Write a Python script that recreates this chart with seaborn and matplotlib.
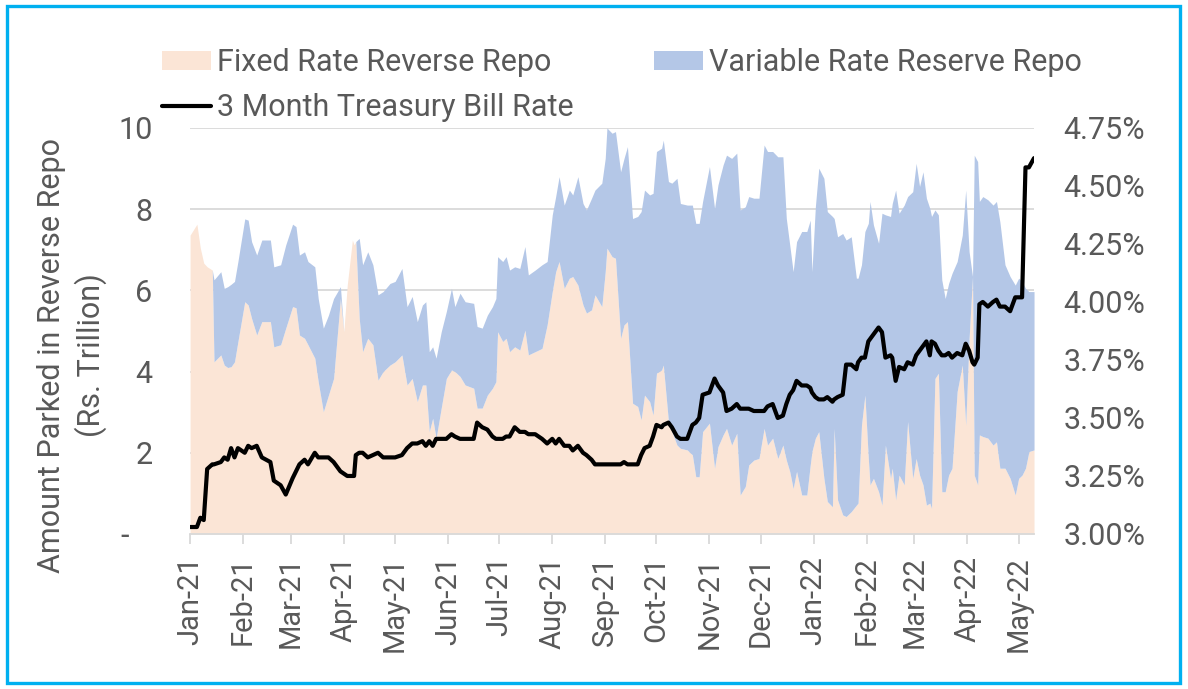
import matplotlib
matplotlib.use("Agg")
import matplotlib.pyplot as plt
import matplotlib.dates as mdates
from matplotlib.patches import Patch, Rectangle
from matplotlib.lines import Line2D
from matplotlib.ticker import FuncFormatter
import pandas as pd
import seaborn as sns

# ── data ──────────────────────────────────────────────────────
dates = [
    "2021-01-01", "2021-01-05", "2021-01-07", "2021-01-09", "2021-01-11", "2021-01-14", "2021-01-15",
    "2021-01-19", "2021-01-21", "2021-01-23", "2021-01-25", "2021-01-27", "2021-01-29",
    "2021-02-02", "2021-02-04", "2021-02-06", "2021-02-09", "2021-02-12", "2021-02-17", "2021-02-19",
    "2021-02-23", "2021-02-26",
    "2021-03-02", "2021-03-04", "2021-03-06", "2021-03-09", "2021-03-11", "2021-03-15", "2021-03-17",
    "2021-03-20", "2021-03-23", "2021-03-26", "2021-03-30",
    "2021-04-01", "2021-04-03", "2021-04-06", "2021-04-07", "2021-04-08", "2021-04-10", "2021-04-12",
    "2021-04-15", "2021-04-18", "2021-04-21", "2021-04-24", "2021-04-28",
    "2021-05-01", "2021-05-05", "2021-05-08", "2021-05-11", "2021-05-14", "2021-05-17", "2021-05-19",
    "2021-05-21", "2021-05-23", "2021-05-25", "2021-05-28", "2021-05-31",
    "2021-06-03", "2021-06-05", "2021-06-08", "2021-06-11", "2021-06-16", "2021-06-18", "2021-06-21",
    "2021-06-24", "2021-06-27", "2021-06-29", "2021-06-30",
    "2021-07-03", "2021-07-05", "2021-07-07", "2021-07-10", "2021-07-13", "2021-07-16", "2021-07-18",
    "2021-07-22", "2021-07-26", "2021-07-29",
    "2021-08-01", "2021-08-03", "2021-08-05", "2021-08-08", "2021-08-11", "2021-08-13", "2021-08-16",
    "2021-08-19", "2021-08-21", "2021-08-24", "2021-08-26", "2021-08-30",
    "2021-09-01", "2021-09-02", "2021-09-05", "2021-09-07", "2021-09-10", "2021-09-12", "2021-09-14",
    "2021-09-17", "2021-09-20", "2021-09-22", "2021-09-24", "2021-09-27", "2021-09-29",
    "2021-10-01", "2021-10-04", "2021-10-05", "2021-10-08", "2021-10-10", "2021-10-13", "2021-10-15",
    "2021-10-19", "2021-10-22", "2021-10-24", "2021-10-26", "2021-10-28",
    "2021-11-01", "2021-11-04", "2021-11-06", "2021-11-09", "2021-11-11", "2021-11-14", "2021-11-17",
    "2021-11-19", "2021-11-22", "2021-11-24", "2021-11-27", "2021-11-30",
    "2021-12-03", "2021-12-05", "2021-12-08", "2021-12-11", "2021-12-14", "2021-12-16", "2021-12-18",
    "2021-12-20", "2021-12-22", "2021-12-25", "2021-12-28", "2021-12-30", "2021-12-31",
    "2022-01-02", "2022-01-04", "2022-01-07", "2022-01-09", "2022-01-12", "2022-01-13", "2022-01-15",
    "2022-01-18", "2022-01-20", "2022-01-23", "2022-01-26", "2022-01-27", "2022-01-29", "2022-01-31",
    "2022-02-02", "2022-02-03", "2022-02-05", "2022-02-08", "2022-02-10", "2022-02-12", "2022-02-15",
    "2022-02-16", "2022-02-18", "2022-02-20", "2022-02-23", "2022-02-25", "2022-02-28",
    "2022-03-02", "2022-03-04", "2022-03-06", "2022-03-08", "2022-03-10", "2022-03-11", "2022-03-13",
    "2022-03-15", "2022-03-17", "2022-03-19", "2022-03-21", "2022-03-23", "2022-03-26", "2022-03-29",
    "2022-03-31",
    "2022-04-02", "2022-04-04", "2022-04-05", "2022-04-07", "2022-04-08", "2022-04-10", "2022-04-13",
    "2022-04-16", "2022-04-18", "2022-04-20", "2022-04-23", "2022-04-26", "2022-04-29",
    "2022-05-01", "2022-05-03", "2022-05-05", "2022-05-07", "2022-05-10",
]

# total amount parked (fixed + variable), Rs. trillion
total_parked = [
    7.36, 7.63, 7.04, 6.67, 6.58, 6.50, 6.26, 6.46, 6.05, 6.09, 6.15, 6.22, 6.71,
    7.76, 7.73, 7.20, 6.87, 7.24, 7.24, 6.58, 6.63, 7.12,
    7.63, 7.57, 6.87, 6.95, 6.71, 6.58, 5.80, 5.07, 5.39, 5.80, 6.09,
    4.98, 6.13, 7.24, 7.12, 7.20, 7.28, 6.63, 6.95, 6.63, 5.89, 5.97, 6.17,
    6.22, 6.54, 5.60, 5.85, 5.23, 5.64, 5.72, 4.49, 4.61, 4.33, 4.98, 5.48,
    6.05, 5.60, 5.93, 5.72, 5.68, 5.11, 5.07, 5.39, 5.60, 5.80, 6.83,
    6.71, 6.83, 6.50, 6.58, 6.54, 7.08, 6.38, 6.50, 6.63, 6.71,
    7.86, 8.31, 8.80, 8.10, 8.47, 8.35, 8.80, 8.14, 7.98, 8.27, 8.47, 8.64,
    9.25, 10.00, 9.87, 9.91, 8.92, 9.25, 9.54, 7.77, 7.82, 7.94, 8.47, 8.35, 8.39,
    9.42, 9.50, 9.70, 8.68, 8.64, 8.76, 8.14, 8.10, 8.10, 7.65, 7.65, 8.19,
    9.05, 8.02, 8.60, 9.09, 9.33, 9.25, 9.38, 7.98, 8.06, 8.31, 8.27, 8.27,
    9.58, 9.42, 9.42, 9.29, 9.29, 7.77, 7.12, 6.46, 7.20, 7.45, 7.45, 7.73, 6.46,
    8.06, 9.01, 8.76, 7.94, 7.82, 7.77, 7.32, 7.40, 7.24, 7.32, 6.30, 6.30, 6.63, 7.45,
    7.65, 8.19, 7.61, 7.16, 7.90, 7.86, 7.82, 8.14, 8.47, 7.90, 8.10, 8.31, 8.43,
    9.13, 8.56, 8.92, 8.27, 8.02, 7.82, 7.98, 7.86, 6.26, 5.80, 6.17, 6.42, 6.71, 7.36, 8.47,
    6.95, 6.34, 9.33, 9.17, 8.19, 8.31, 8.23, 8.10, 8.19, 7.69, 6.63, 6.34, 6.13,
    6.30, 6.22, 6.05, 5.97, 5.97,
]

fixed_rate = [
    7.36, 7.63, 7.04, 6.67, 6.58, 6.50, 4.24, 4.41, 4.16, 4.10, 4.12, 4.24, 4.74,
    5.72, 5.64, 5.31, 4.90, 5.23, 5.23, 4.61, 4.66, 5.07,
    5.60, 5.57, 4.90, 4.82, 4.66, 4.33, 3.75, 3.01, 3.42, 3.83, 5.80,
    4.98, 6.13, 7.24, 7.12, 7.20, 5.31, 4.49, 4.82, 4.66, 3.79, 4.00, 4.16,
    4.24, 4.41, 3.67, 3.83, 3.26, 3.67, 3.67, 2.52, 2.85, 2.36, 3.10, 3.83,
    4.04, 4.00, 3.88, 3.67, 3.59, 3.10, 3.10, 3.42, 3.59, 3.75, 4.98,
    4.74, 4.82, 4.49, 4.61, 4.53, 5.02, 4.41, 4.49, 4.57, 5.15,
    5.97, 6.46, 6.71, 6.05, 6.30, 6.34, 6.13, 5.64, 5.44, 5.52, 5.89, 5.60,
    6.46, 7.04, 6.83, 6.79, 4.82, 5.15, 5.23, 3.22, 3.14, 2.81, 3.42, 3.26, 2.93,
    3.96, 4.04, 4.16, 2.77, 2.52, 2.19, 2.11, 2.07, 1.95, 1.41, 1.41, 2.52,
    2.73, 1.62, 2.15, 2.44, 2.60, 2.19, 2.48, 0.96, 1.17, 1.70, 1.82, 1.86,
    2.60, 2.19, 2.36, 1.86, 2.19, 1.82, 1.54, 1.12, 1.54, 0.96, 0.96, 1.70, 2.03,
    2.36, 2.52, 1.37, 0.80, 0.67, 2.60, 0.84, 0.47, 0.43, 0.55, 0.71, 0.76, 2.68, 3.42,
    1.86, 1.21, 1.37, 1.04, 0.71, 2.19, 1.37, 1.62, 0.84, 1.45, 1.21, 2.77, 1.37,
    1.86, 1.45, 1.21, 0.71, 0.76, 0.63, 3.83, 3.96, 1.04, 1.04, 1.45, 1.62, 3.51, 4.16, 2.68,
    4.82, 6.34, 1.45, 1.21, 2.44, 2.40, 2.36, 2.19, 2.27, 1.62, 1.62, 1.37, 0.96,
    1.37, 1.45, 1.62, 2.03, 2.07,
]

# 3 month T-bill rate, %
tbill_rate = [
    3.03, 3.03, 3.07, 3.06, 3.28, 3.30, 3.30, 3.31, 3.33, 3.32, 3.37, 3.33, 3.37,
    3.35, 3.38, 3.37, 3.38, 3.33, 3.31, 3.23, 3.21, 3.17,
    3.24, 3.27, 3.30, 3.32, 3.30, 3.35, 3.33, 3.33, 3.33, 3.31, 3.27,
    3.26, 3.25, 3.25, 3.25, 3.34, 3.35, 3.35, 3.33, 3.34, 3.35, 3.33, 3.33,
    3.33, 3.34, 3.37, 3.39, 3.39, 3.40, 3.38, 3.40, 3.38, 3.41, 3.41, 3.41,
    3.43, 3.42, 3.41, 3.41, 3.41, 3.48, 3.46, 3.45, 3.42, 3.41, 3.41,
    3.41, 3.42, 3.42, 3.46, 3.44, 3.44, 3.43, 3.43, 3.41, 3.39,
    3.41, 3.39, 3.41, 3.38, 3.38, 3.36, 3.38, 3.35, 3.34, 3.32, 3.30, 3.30,
    3.30, 3.30, 3.30, 3.30, 3.30, 3.31, 3.30, 3.30, 3.30, 3.34, 3.37, 3.38, 3.42,
    3.47, 3.46, 3.47, 3.48, 3.46, 3.42, 3.41, 3.41, 3.47, 3.48, 3.50, 3.60,
    3.61, 3.67, 3.64, 3.61, 3.53, 3.54, 3.56, 3.54, 3.54, 3.54, 3.53, 3.53,
    3.53, 3.55, 3.56, 3.50, 3.51, 3.56, 3.60, 3.62, 3.66, 3.64, 3.64, 3.63, 3.61,
    3.59, 3.58, 3.58, 3.59, 3.57, 3.58, 3.59, 3.60, 3.73, 3.73, 3.71, 3.74, 3.76, 3.76,
    3.83, 3.84, 3.86, 3.89, 3.87, 3.76, 3.77, 3.76, 3.66, 3.72, 3.71, 3.74, 3.73,
    3.77, 3.79, 3.81, 3.83, 3.77, 3.83, 3.82, 3.79, 3.77, 3.77, 3.78, 3.76, 3.78, 3.77, 3.82,
    3.79, 3.74, 3.73, 3.76, 3.99, 4.00, 3.98, 4.00, 4.01, 3.98, 3.98, 3.96, 4.02,
    4.02, 4.02, 4.58, 4.58, 4.62,
]

left_ticks = [0, 2, 4, 6, 8, 10]
right_ticks = [3.00, 3.25, 3.50, 3.75, 4.00, 4.25, 4.50, 4.75]

df = pd.DataFrame({
    "date": pd.to_datetime(dates),
    "total": total_parked,
    "fixed": fixed_rate,
    "rate": tbill_rate,
})
df["variable"] = df["total"] - df["fixed"]

# ── style ──────────────────────────────────────────────────────
sns.set_style("white")
plt.rcParams["font.family"] = ["Roboto", "DejaVu Sans"]
TXT = "#595959"
PEACH = "#FBE5D6"
BLUE = "#B4C7E7"
GRID = "#D9D9D9"
FS = 22

fig = plt.figure(figsize=(11.88, 6.89), dpi=100)
ax = fig.add_axes([0.160, 0.225, 0.7104, 0.5893])

ax.stackplot(df["date"], df["fixed"], df["variable"], colors=[PEACH, BLUE], linewidth=0)
ax.set_ylim(0, 10)
ax.set_yticks(left_ticks)
ax.yaxis.set_major_formatter(FuncFormatter(lambda v, p: "-   " if v == 0 else f"{v:.0f}"))
ax.set_xlim(pd.Timestamp("2021-01-01"), pd.Timestamp("2022-05-10"))
ax.xaxis.set_major_locator(mdates.MonthLocator())
ax.xaxis.set_major_formatter(mdates.DateFormatter("%b-%y"))
ax.set_axisbelow(True)
ax.yaxis.grid(True, color=GRID, lw=1.3)
ax.xaxis.grid(False)
for s in ["top", "left", "right"]:
    ax.spines[s].set_visible(False)
ax.spines["bottom"].set_color(GRID)
ax.spines["bottom"].set_linewidth(1.3)
ax.tick_params(axis="x", which="major", direction="out", length=7, width=1.3, color=GRID,
               labelsize=FS - 1, labelcolor=TXT, pad=9, labelrotation=90, bottom=True)
ax.tick_params(axis="y", length=0, labelsize=FS, labelcolor=TXT, pad=27)
ax.set_xlabel("")
ax.set_ylabel("Amount Parked in Reverse Repo\n(Rs. Trillion)", fontsize=FS, color=TXT,
              linespacing=1.35)
ax.yaxis.set_label_coords(-0.098, 0.44)

ax2 = ax.twinx()
sns.lineplot(data=df, x="date", y="rate", ax=ax2, color="black", lw=3.0)
ax2.set_ylim(3.00, 4.75)
ax2.set_yticks(right_ticks)
ax2.yaxis.set_major_formatter(FuncFormatter(lambda v, p: f"{v:.2f}%"))
ax2.tick_params(axis="y", length=0, labelsize=FS, labelcolor=TXT, pad=21)
ax2.set_ylabel("")
ax2.set_xlabel("")
for s in ax2.spines.values():
    s.set_visible(False)
ax2.grid(False)

handles = [
    Patch(facecolor=PEACH, edgecolor="none", label="Fixed Rate Reverse Repo"),
    Line2D([0], [0], color="black", lw=3, label="3 Month Treasury Bill Rate"),
    Patch(facecolor=BLUE, edgecolor="none", label="Variable Rate Reserve Repo"),
]
fig.legend(handles=handles, loc="upper left", bbox_to_anchor=(0.136, 0.930), ncol=2,
           frameon=False, fontsize=FS, labelcolor=TXT, handlelength=1.63, handleheight=0.6,
           handletextpad=0.2, columnspacing=2.6, labelspacing=0.52, borderpad=0,
           borderaxespad=0)

fig.patches.append(Rectangle((6.5 / 1188, 6 / 689), (1180 - 6.5) / 1188, (683 - 6) / 689,
                             transform=fig.transFigure, fill=False, edgecolor="#00B0F0",
                             lw=2.4, zorder=10))

fig.savefig("out.png", dpi=100)
